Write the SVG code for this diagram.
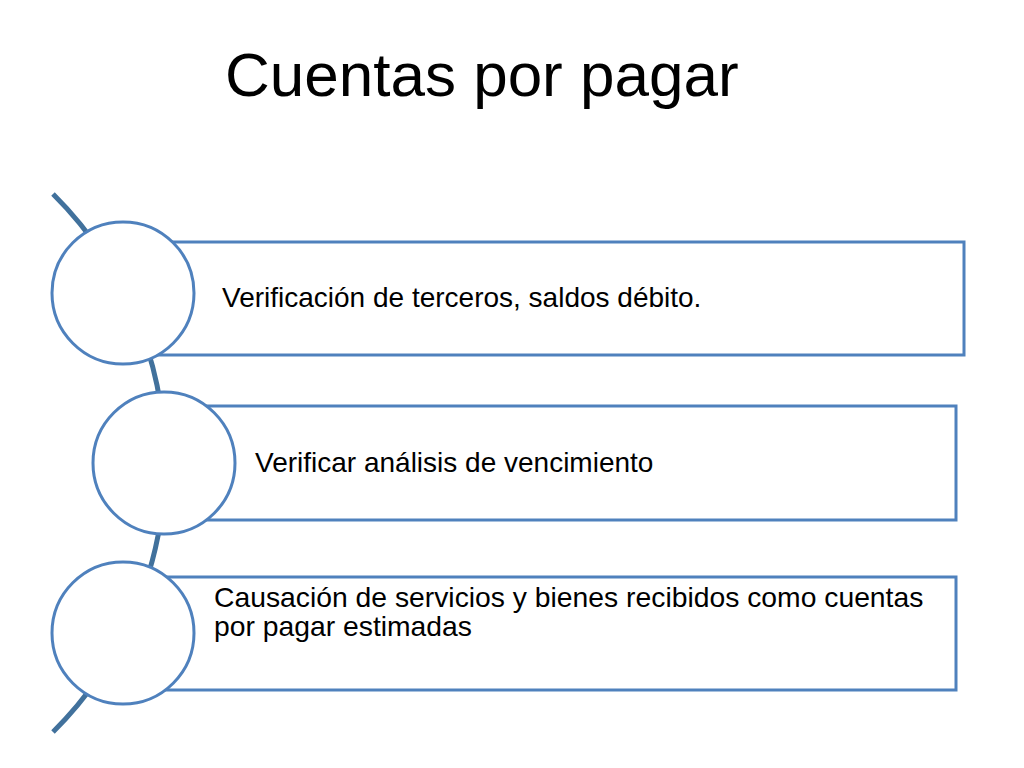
<svg xmlns="http://www.w3.org/2000/svg" width="1024" height="768" viewBox="0 0 1024 768">
  <style>
    .box { fill: #FFFFFF; stroke: #4F81BD; stroke-width: 3; }
    .dot { fill: #FFFFFF; stroke: #4F81BD; stroke-width: 3; }
    .lbl { font-family: "Liberation Sans", Arial, sans-serif; font-size: 28px; fill: #000000; }
    .title { font-family: "Liberation Sans", Arial, sans-serif; font-size: 62px; fill: #000000; }
  </style>
  <rect x="0" y="0" width="1024" height="768" fill="#FFFFFF"/>
  <text class="title" x="225" y="96">Cuentas por pagar</text>
  <g id="connectors">
    <path d="M 53 194 A 379 379 0 0 1 53 732" fill="none" stroke="#41719C" stroke-width="5"/>
  </g>
  <g id="node1">
    <rect class="box" x="123" y="242" width="841" height="113"/>
    <circle class="dot" cx="123" cy="293" r="71"/>
    <text class="lbl" x="222" y="307">Verificación de terceros, saldos débito.</text>
  </g>
  <g id="node2">
    <rect class="box" x="164" y="406" width="792" height="114"/>
    <circle class="dot" cx="164" cy="463" r="71"/>
    <text class="lbl" x="255" y="472">Verificar análisis de vencimiento</text>
  </g>
  <g id="node3">
    <rect class="box" x="123" y="577" width="833" height="113"/>
    <circle class="dot" cx="123" cy="633" r="71"/>
    <text class="lbl" style="font-size:28.3px"><tspan x="214" y="607">Causación de servicios y bienes recibidos como cuentas</tspan><tspan x="214" y="636">por pagar estimadas</tspan></text>
  </g>
</svg>
